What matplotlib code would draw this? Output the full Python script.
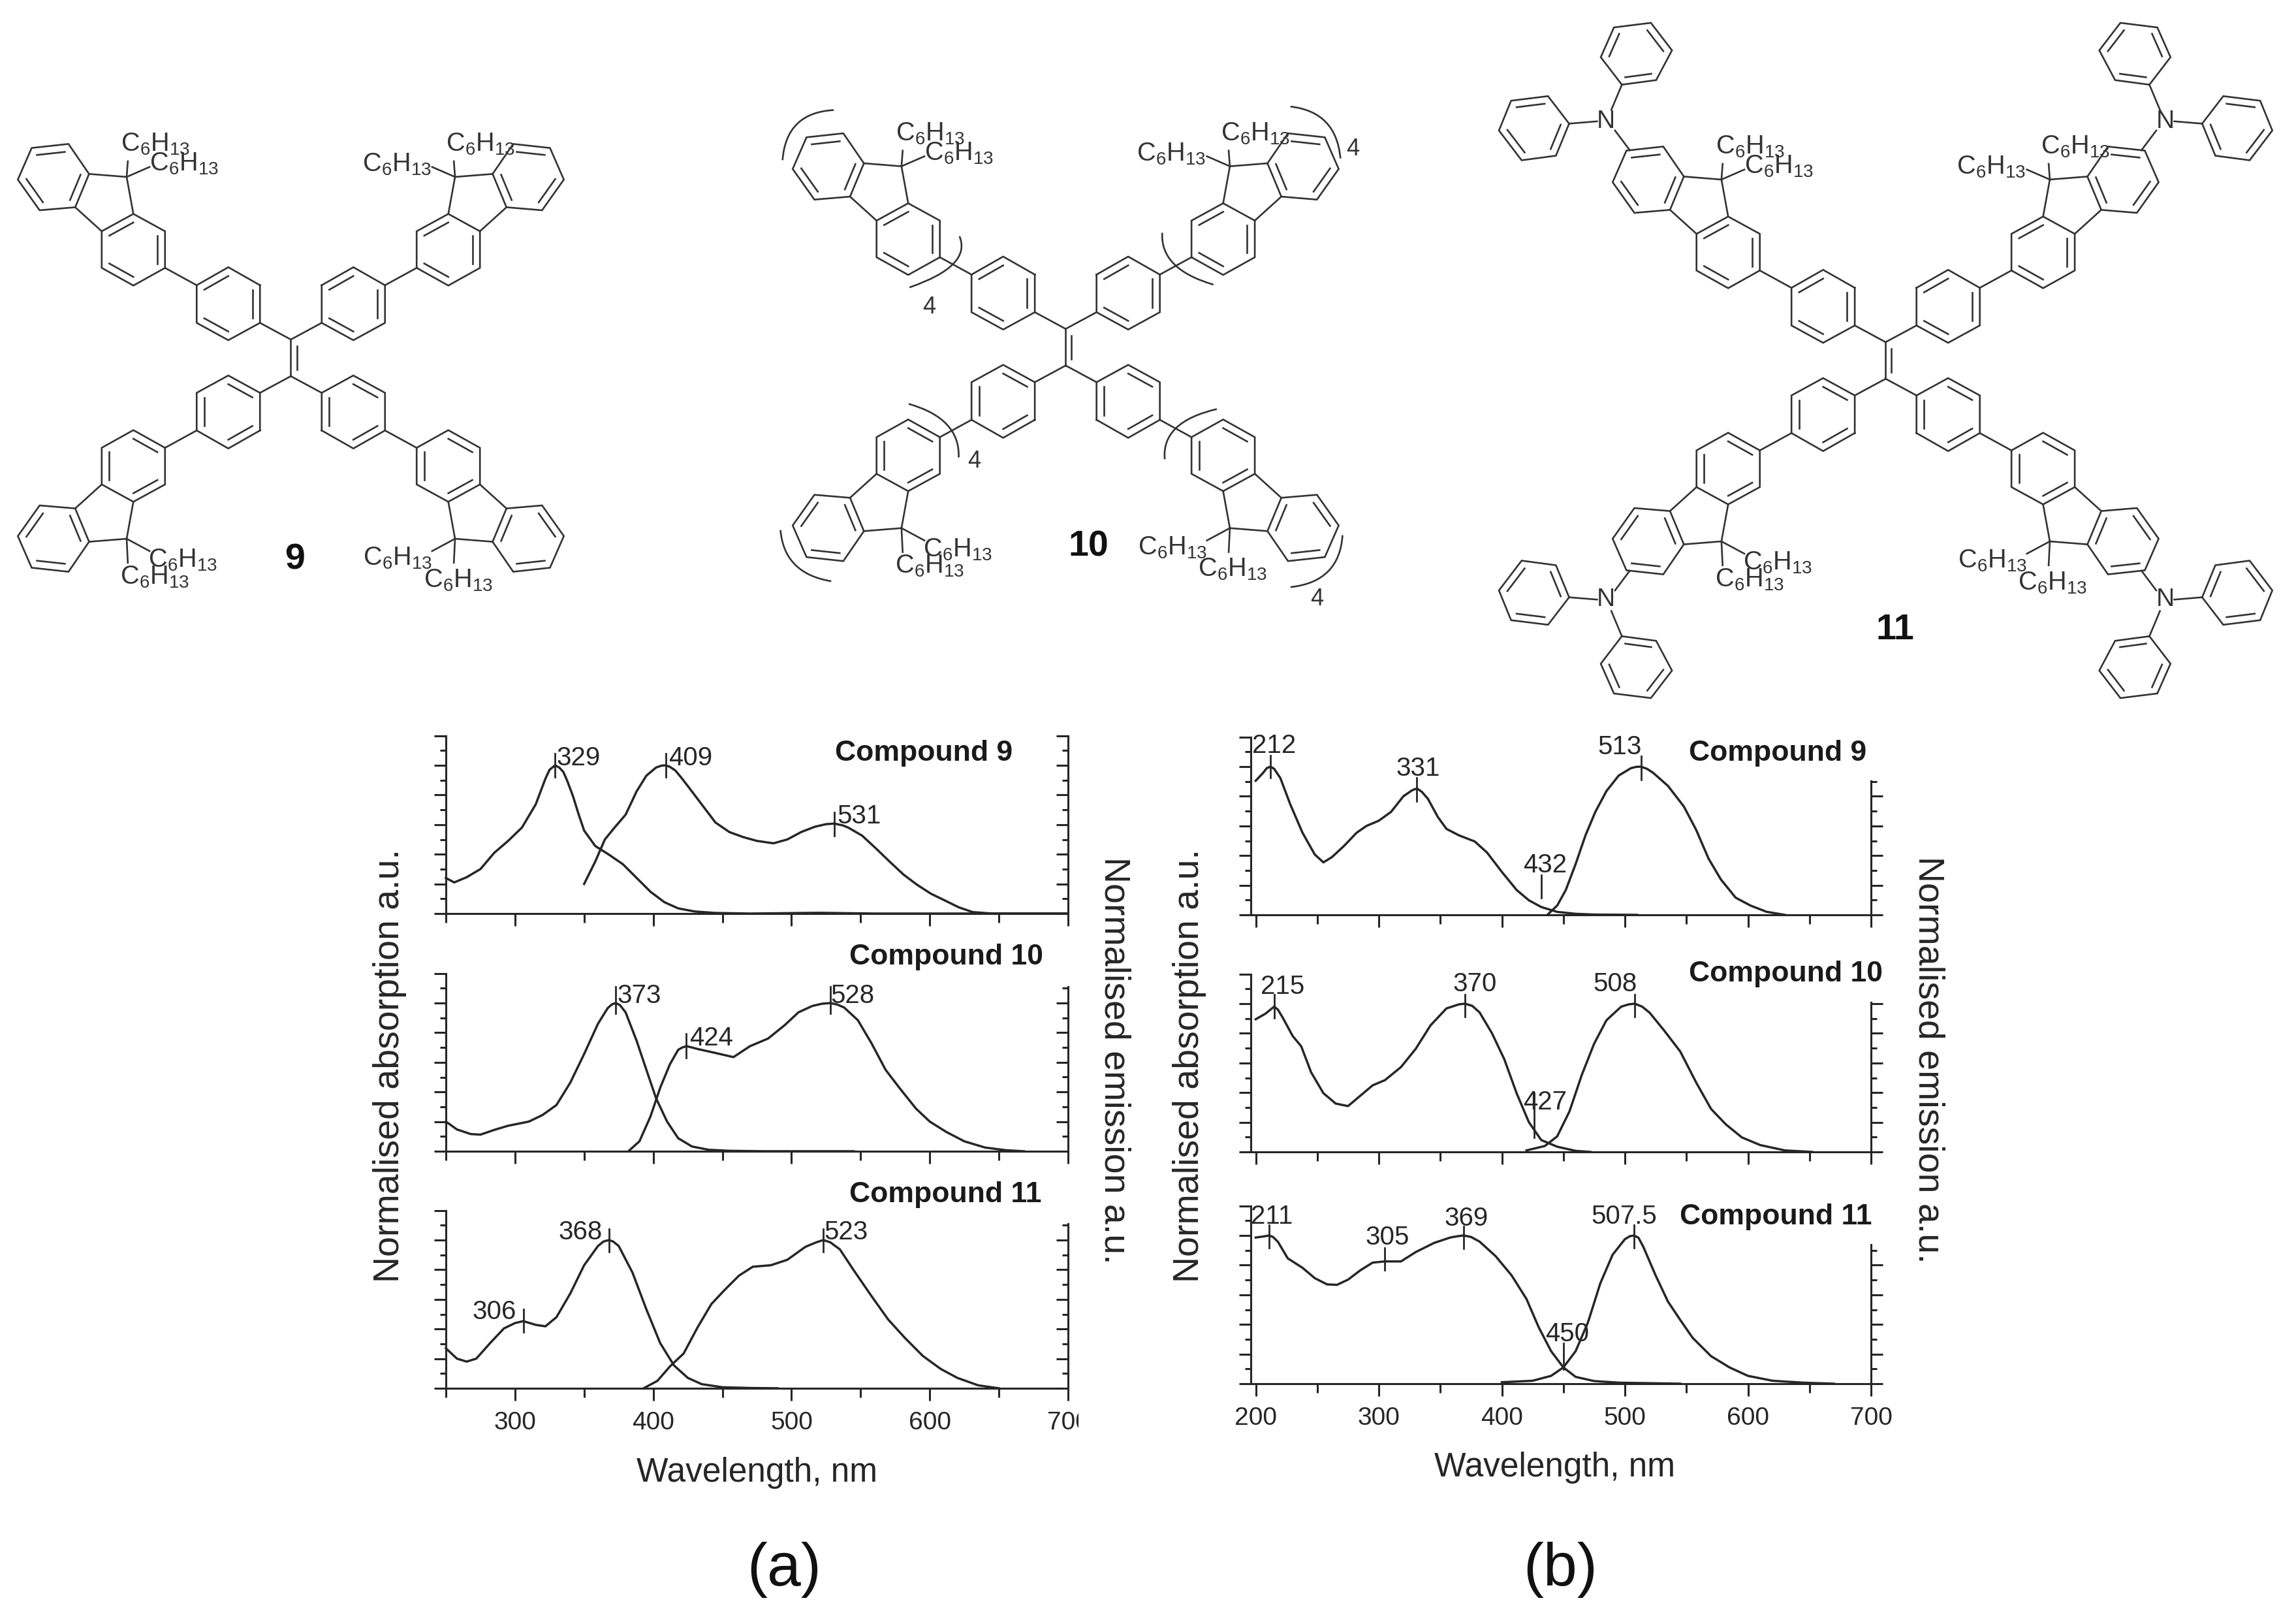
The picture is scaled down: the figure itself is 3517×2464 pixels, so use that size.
import numpy as np
import matplotlib
matplotlib.use('Agg')
import matplotlib.pyplot as plt
from matplotlib.path import Path
from matplotlib.patches import PathPatch, Rectangle

plt.rcParams['font.family'] = 'Liberation Sans'
plt.rcParams['mathtext.default'] = 'regular'

W, H = 3517, 2464
INK = '#262626'

# ---- spectra: (a) left block
a9_abs_x = [250, 256, 265, 275, 285, 295, 305, 315, 322, 325, 329, 332, 335, 338, 342, 346, 350, 358, 368, 378, 388, 398, 408, 418, 430, 445, 470, 520, 560, 700]
a9_abs_y = [.24, .21, .245, .30, .41, .49, .58, .737, .91, .97, 1.0, .985, .955, .89, .79, .67, .56, .456, .397, .333, .24, .147, .077, .035, .014, .004, 0, .005, 0, 0]
a9_em_x = [350, 358, 365, 372, 380, 388, 395, 402, 406, 409, 412, 416, 420, 425, 435, 445, 455, 465, 475, 487, 497, 507, 517, 525, 531, 537, 541, 551, 561, 571, 581, 591, 601, 611, 621, 631, 645, 700]
a9_em_y = [.20, .35, .50, .58, .667, .825, .93, .985, .998, 1.0, .99, .965, .92, .86, .737, .614, .55, .516, .49, .474, .50, .55, .586, .603, .607, .595, .58, .526, .44, .35, .263, .193, .133, .088, .042, .01, 0, 0]

a10_abs_x = [250, 258, 268, 275, 285, 295, 310, 320, 330, 340, 350, 360, 367, 370, 373, 376, 380, 388, 395, 402, 410, 418, 428, 440, 455, 480, 545]
a10_abs_y = [.2, .147, .116, .112, .144, .172, .2, .245, .312, .463, .656, .86, .965, .99, 1.0, .985, .937, .744, .55, .358, .2, .088, .032, .01, .003, 0, 0]
a10_em_x = [382, 390, 398, 405, 412, 418, 421, 424, 428, 432, 445, 458, 470, 483, 495, 505, 515, 522, 528, 533, 538, 548, 558, 568, 578, 590, 600, 612, 625, 640, 655, 668]
a10_em_y = [0, .067, .235, .428, .586, .684, .70, .709, .70, .69, .663, .635, .709, .76, .85, .937, .98, .995, 1.0, .99, .97, .884, .726, .55, .428, .288, .2, .13, .067, .025, .007, 0]

a11_abs_x = [250, 258, 265, 272, 282, 292, 300, 306, 315, 322, 330, 340, 350, 360, 364, 368, 371, 375, 385, 395, 405, 415, 425, 435, 450, 470, 490]
a11_abs_y = [.27, .2, .18, .2, .305, .404, .44, .453, .428, .418, .48, .64, .83, .96, .99, 1.0, .99, .96, .78, .533, .305, .154, .07, .028, .007, .002, 0]
a11_em_x = [393, 403, 412, 422, 432, 442, 452, 462, 472, 485, 497, 510, 518, 523, 528, 535, 545, 558, 570, 582, 595, 608, 620, 635, 650]
a11_em_y = [0, .05, .147, .235, .41, .568, .667, .76, .82, .83, .867, .954, .985, 1.0, .985, .937, .796, .62, .463, .34, .218, .13, .07, .02, 0]

# ---- (b) right block
b9_abs_x = [200, 206, 209, 212, 215, 220, 228, 238, 248, 255, 262, 272, 282, 290, 300, 310, 320, 327, 331, 335, 340, 348, 355, 365, 378, 388, 400, 412, 422, 432, 445, 460, 475, 510]
b9_abs_y = [.905, .958, .99, 1.0, .985, .923, .747, .554, .407, .354, .39, .467, .554, .6, .635, .695, .8, .84, .853, .83, .782, .66, .58, .537, .495, .42, .29, .168, .098, .053, .02, .007, .002, 0]
b9_em_x = [437, 445, 452, 460, 468, 476, 485, 495, 505, 509, 513, 518, 523, 535, 548, 558, 568, 578, 590, 602, 615, 630]
b9_em_y = [0, .063, .168, .344, .537, .695, .835, .94, .99, .998, 1.0, .985, .958, .87, .73, .572, .379, .239, .116, .063, .021, 0]

b10_abs_x = [200, 208, 212, 215, 218, 222, 230, 237, 245, 255, 265, 275, 285, 295, 305, 318, 330, 342, 355, 365, 370, 376, 382, 392, 402, 412, 422, 432, 445, 460, 472]
b10_abs_y = [.895, .933, .96, .98, .96, .905, .782, .712, .537, .396, .326, .309, .379, .449, .484, .572, .695, .853, .968, .995, 1.0, .985, .94, .8, .625, .396, .2, .08, .035, .007, 0]
b10_em_x = [420, 435, 445, 455, 465, 475, 485, 497, 503, 508, 514, 520, 532, 545, 558, 570, 582, 595, 610, 630, 652]
b10_em_y = [.01, .04, .105, .274, .52, .73, .888, .98, .995, 1.0, .98, .94, .818, .677, .467, .29, .186, .098, .046, .01, 0]

b11_abs_x = [200, 206, 211, 214, 218, 226, 238, 248, 258, 266, 275, 285, 295, 305, 318, 330, 345, 358, 364, 369, 375, 382, 395, 408, 420, 430, 440, 450, 460, 475, 495, 545]
b11_abs_y = [.986, .993, 1.0, .99, .958, .846, .782, .712, .67, .667, .702, .765, .817, .825, .825, .888, .95, .986, .995, 1.0, .99, .958, .86, .73, .572, .38, .22, .11, .046, .018, .007, 0]
b11_em_x = [400, 425, 440, 450, 460, 470, 480, 490, 500, 504, 507.5, 511, 515, 525, 535, 545, 555, 570, 585, 600, 620, 645, 670]
b11_em_y = [.01, .02, .053, .11, .22, .414, .677, .87, .975, .995, 1.0, .985, .923, .73, .554, .43, .31, .186, .11, .053, .02, .007, 0]

# peak marks: wavelength, tick low, tick high, label, label x, label y, align
a9_peaks = [(329, .92, 1.08, '329', 330, 1.05, 'left'), (409, .92, 1.08, '409', 411, 1.05, 'left'), (531, .526, .684, '531', 533, .656, 'left')]
a10_peaks = [(373, .93, 1.11, '373', 374, 1.05, 'left'), (424, .63, .795, '424', 426, .76, 'left'), (528, .93, 1.11, '528', 528.5, 1.05, 'left')]
a11_peaks = [(306, .38, .533, '306', 301, .516, 'right'), (368, .92, 1.077, '368', 363, 1.053, 'right'), (523, .92, 1.077, '523', 523.5, 1.053, 'left')]
b9_peaks = [(212, .923, 1.074, '212', 215, 1.14, 'center'), (331, .765, .923, '331', 332, .986, 'center'), (513, .91, 1.07, '513', 496, 1.133, 'center'), (432, .115, .27, '432', 435, .337, 'center')]
b10_peaks = [(215, .905, 1.063, '215', 222, 1.116, 'center'), (370, .91, 1.063, '370', 378, 1.133, 'center'), (508, .91, 1.063, '508', 492, 1.133, 'center'), (426, .098, .396, '427', 435, .337, 'center')]
b11_peaks = [(211, .916, 1.07, '211', 213, 1.126, 'center'), (305, .765, .916, '305', 307, .986, 'center'), (369, .912, 1.063, '369', 371, 1.116, 'center'), (507.5, .916, 1.07, '507.5', 499.5, 1.126, 'center'), (450, .098, .274, '450', 453, .333, 'center')]

xticks_a = [300, 400, 500, 600, 700]
xticks_b = [200, 300, 400, 500, 600, 700]
xminor = [250, 350, 450, 550, 650]


def panel(left, right, base, xlim, xticks, top_r, r_dir, curves, peaks, last):
    unit = 227.0
    ax = fig.add_axes([left / W, 1 - base / H, (right - left) / W, 1.2 * unit / H])
    ax.patch.set_visible(False)
    for s in ['top', 'right']:
        ax.spines[s].set_visible(False)
    for s in ['left', 'bottom']:
        ax.spines[s].set_linewidth(2.2)
        ax.spines[s].set_color(INK)
    ax.set_xticks(xticks)
    ax.set_xticks(xminor, minor=True)
    ax.set_yticks(np.arange(0, 1.21, .2))
    ax.set_yticks(np.arange(.1, 1.2, .2), minor=True)
    ax.set_yticklabels([])
    ax.set_xlim(xlim)
    ax.set_ylim(0, 1.2)
    ax.tick_params(axis='x', which='major', length=14, width=2.2, color=INK, labelcolor=INK, labelsize=28, pad=11, labelbottom=last)
    ax.tick_params(axis='x', which='minor', length=10, width=2.2, color=INK)
    ax.tick_params(axis='y', which='major', length=13, width=2.2, color=INK)
    ax.tick_params(axis='y', which='minor', length=6.5, width=2.2, color=INK)

    # right hand axis is shorter than the left one in most panels
    twin = ax.twinx()
    twin.patch.set_visible(False)
    for s in ['top', 'left', 'bottom']:
        twin.spines[s].set_visible(False)
    twin.spines['right'].set_bounds(0, top_r)
    twin.spines['right'].set_linewidth(2.2)
    twin.spines['right'].set_color(INK)
    twin.set_yticks(np.arange(0, top_r + .001, .2))
    twin.set_yticks(np.arange(.1, top_r + .001, .2), minor=True)
    twin.set_yticklabels([])
    twin.set_ylim(0, 1.2)
    twin.tick_params(axis='y', which='major', direction=r_dir, length=13, width=2.2, color=INK)
    twin.tick_params(axis='y', which='minor', direction=r_dir, length=6.5, width=2.2, color=INK)

    for x, y in curves:
        ax.plot(x, y, color=INK, lw=2.5, clip_on=False, solid_joinstyle='round')
    for nm, lo, hi, txt, tx, ty, align in peaks:
        ax.plot([nm, nm], [lo, hi], color=INK, lw=2.0, clip_on=False)
        ax.text(tx, ty, txt, ha=align, va='center', fontsize=29, color=INK)
    return ax


fig = plt.figure(figsize=(W / 100, H / 100), dpi=100, facecolor='white')

panel(683, 1636, 1399, (250, 700), xticks_a, 1.2, 'in', [(a9_abs_x, a9_abs_y), (a9_em_x, a9_em_y)], a9_peaks, False)
panel(683, 1636, 1763, (250, 700), xticks_a, 1.11, 'in', [(a10_abs_x, a10_abs_y), (a10_em_x, a10_em_y)], a10_peaks, False)
panel(683, 1636, 2126, (250, 700), xticks_a, 1.11, 'in', [(a11_abs_x, a11_abs_y), (a11_em_x, a11_em_y)], a11_peaks, True)

panel(1915.6, 2866, 1401, (195.8, 700), xticks_b, .905, 'out', [(b9_abs_x, b9_abs_y), (b9_em_x, b9_em_y)], b9_peaks, False)
panel(1915.6, 2866, 1764, (195.8, 700), xticks_b, 1.01, 'out', [(b10_abs_x, b10_abs_y), (b10_em_x, b10_em_y)], b10_peaks, False)
panel(1915.6, 2866, 2119, (195.8, 700), xticks_b, .94, 'out', [(b11_abs_x, b11_abs_y), (b11_em_x, b11_em_y)], b11_peaks, True)

# full figure layer in image pixels for the structures and loose text
over = fig.add_axes([0, 0, 1, 1])
over.set_xlim(0, W)
over.set_ylim(H, 0)
over.axis('off')
over.set_zorder(5)

# the 700 of the left chart is cut off in the original
over.add_patch(Rectangle((1652, 2150), 40, 50, facecolor='white', edgecolor='none'))

for x, y, s in [(1279, 1154, 'Compound 9'), (1301, 1465, 'Compound 10'), (1301, 1829, 'Compound 11'),
                (2587, 1154, 'Compound 9'), (2587, 1492, 'Compound 10'), (2573, 1863, 'Compound 11')]:
    over.text(x, y, s, fontsize=32, fontweight='bold', ha='left', va='center', color='#1a1a1a')

for x, y, s, rot in [(597, 1632, 'Normalised absorption a.u.', 90), (1707, 1624, 'Normalised emission a.u.', -90),
                     (1822, 1632, 'Normalised absorption a.u.', 90), (2954, 1623, 'Normalised emission a.u.', -90)]:
    over.text(x, y, s, fontsize=40, rotation=rot, ha='center', va='center', color=INK)

over.text(1160, 2256, 'Wavelength, nm', fontsize=37, ha='center', va='center', color=INK)
over.text(2382, 2248, 'Wavelength, nm', fontsize=37, ha='center', va='center', color=INK)
over.text(1201, 2404, '(a)', fontsize=67, ha='center', va='center', color='#111111')
over.text(2390, 2404, '(b)', fontsize=67, ha='center', va='center', color='#111111')

# ---- structures. Arm geometry measured on compound 9, top left arm
MC = '#333333'
phenyl = [(657, 562), (577, 508), (497, 562), (497, 675), (577, 727), (657, 675)]
ring_a = [(417, 510), (417, 400), (337, 348), (257, 400), (257, 510), (337, 563)]
ring_c = [(225, 228), (173, 138), (80, 150), (45, 245), (100, 337), (190, 328)]
five = [(337, 348), (320, 237), (225, 228)]
links = [[(735, 725), (657, 675)], [(497, 562), (417, 510)], [(190, 328), (257, 400)]]
chain_top = [[(320, 237), (323, 190)], [(320, 237), (378, 207)]]
chain_bot = [[(320, 237), (323, 165)], [(320, 237), (378, 200)]]
hexyl = 'C$_6$H$_{13}$'
# left edge and baseline of the hexyl labels, same for all three molecules
hexyl_tl = [(305, 160), (378, 218)]
hexyl_tr = [(1127, 160), (915, 220)]
hexyl_bl = [(375, 1408), (303, 1458)]
hexyl_br = [(918, 1402), (1070, 1468)]
# diphenylamino cap, measured on compound 11 top left arm
cap_ph1 = [(190, 270), (150, 210), (80, 220), (57, 285), (100, 350), (165, 340)]
cap_ph2 = [(290, 185), (355, 175), (385, 110), (345, 50), (275, 60), (250, 125)]
cap_links = [[(305, 328), (277, 285)], [(243, 265), (190, 270)], [(270, 240), (290, 185)]]


def to9(p, c, sx=1, sy=1):
    return c[0] + sx * (p[0] - 735) / 1.65, c[1] + sy * (p[1] - 780) / 1.96


def to11(p, c, sx=1, sy=1):
    return c[0] + sx * (p[0] - 790) / 1.2375, c[1] + sy * (p[1] - 787) / 1.4255


def ring(pts, doubles):
    pts = np.array(pts)
    mid = pts.mean(axis=0)
    closed = np.vstack([pts, pts[0]])
    over.plot(closed[:, 0], closed[:, 1], color=MC, lw=1.9, solid_joinstyle='miter')
    for i in doubles:
        p, q = pts[i], pts[(i + 1) % len(pts)]
        p2 = p + (mid - p) * .24
        q2 = q + (mid - q) * .24
        over.plot([p2[0], q2[0]], [p2[1], q2[1]], color=MC, lw=1.9)


def line(a, b):
    over.plot([a[0], b[0]], [a[1], b[1]], color=MC, lw=1.9)


def molecule(c, cap=False):
    f = lambda p, sx=1, sy=1: to9(p, c, sx, sy)
    line(f((735, 725)), f((735, 835)))
    line(f((750, 745)), f((750, 815)))
    for sx, sy in [(1, 1), (-1, 1), (1, -1), (-1, -1)]:
        alt = sx * sy < 0
        ring([f(p, sx, sy) for p in phenyl], [1, 3, 5] if not alt else [0, 2, 4])
        ring([f(p, sx, sy) for p in ring_a], [0, 2, 4] if not alt else [1, 3, 5])
        ring([f(p, sx, sy) for p in ring_c], [5, 1, 3])
        pts = [f(p, sx, sy) for p in five]
        line(pts[0], pts[1])
        line(pts[1], pts[2])
        for a, b in links:
            line(f(a, sx, sy), f(b, sx, sy))
        for a, b in (chain_top if sy > 0 else chain_bot):
            line(f(a, sx, sy), f(b, sx, sy))
        if cap:
            g = lambda p: to11(p, c, sx, sy)
            ring([g(p) for p in cap_ph1], [1, 3, 5])
            ring([g(p) for p in cap_ph2], [0, 2, 4])
            for a, b in cap_links:
                line(g(a), g(b))
            nx, ny = g((260, 265))
            over.text(nx, ny, 'N', fontsize=28, ha='center', va='center', color=MC)
    for p in hexyl_tl + hexyl_tr + hexyl_bl + hexyl_br:
        x, y = f(p)
        over.text(x, y, hexyl, fontsize=28.5, ha='left', va='baseline', color=MC)


c9 = (445.5, 548)
c10 = (1632.4, 531.7)
c11 = (2888.4, 552)
molecule(c9)
molecule(c10)
molecule(c11, cap=True)

over.text(451.5, 857, '9', fontsize=40, fontweight='bold', ha='center', va='center', color='#111111')
over.text(1667, 837, '10', fontsize=40, fontweight='bold', ha='center', va='center', color='#111111')
over.text(2903, 965, '11', fontsize=40, fontweight='bold', ha='center', va='center', color='#111111')

# repeat brackets of compound 10, measured on a 1.568 x 1.889 crop at (1170, 150)
brackets = [[(168, 35), (80, 75), (45, 180)], [(470, 400), (455, 480), (350, 548)],
            [(1265, 25), (1350, 70), (1385, 175)], [(957, 390), (985, 480), (1080, 540)],
            [(348, 885), (440, 945), (468, 1040)], [(40, 1250), (75, 1350), (162, 1398)],
            [(1088, 900), (990, 955), (963, 1045)], [(1265, 1415), (1355, 1370), (1390, 1265)]]
for a, m, b in brackets:
    a, m, b = [np.array([1170 + p[0] / 1.568, 150 + p[1] / 1.889]) for p in (a, m, b)]
    ctrl = 2 * m - (a + b) / 2
    over.add_patch(PathPatch(Path([a, ctrl, b], [Path.MOVETO, Path.CURVE3, Path.CURVE3]),
                             facecolor='none', edgecolor=MC, lw=1.9))
for x, y in [(397, 605), (1415, 148), (505, 1052), (1328, 1450)]:
    over.text(1170 + x / 1.568, 150 + y / 1.889, '4', fontsize=26, ha='center', va='center', color=MC)

fig.savefig('out.png', dpi=100)
